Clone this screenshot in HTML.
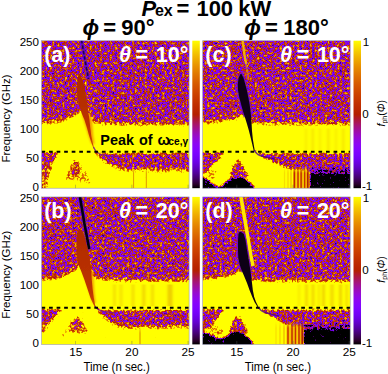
<!DOCTYPE html>
<html><head><meta charset="utf-8"><style>html,body{margin:0;padding:0;background:#fff;overflow:hidden}svg{display:block}</style></head>
<body><svg width="388" height="374" viewBox="0 0 388 374" xmlns="http://www.w3.org/2000/svg">
<defs>
<linearGradient id="cbg" x1="0" y1="0" x2="0" y2="1"><stop offset="0.000" stop-color="#ffff00"/><stop offset="0.025" stop-color="#fcec00"/><stop offset="0.050" stop-color="#f9db00"/><stop offset="0.075" stop-color="#f5ca00"/><stop offset="0.100" stop-color="#f2ba00"/><stop offset="0.125" stop-color="#efab00"/><stop offset="0.150" stop-color="#eb9d00"/><stop offset="0.175" stop-color="#e88f00"/><stop offset="0.200" stop-color="#e48300"/><stop offset="0.225" stop-color="#e07700"/><stop offset="0.250" stop-color="#dd6c00"/><stop offset="0.275" stop-color="#d96100"/><stop offset="0.300" stop-color="#d55700"/><stop offset="0.325" stop-color="#d24e00"/><stop offset="0.350" stop-color="#ce4600"/><stop offset="0.375" stop-color="#ca3e00"/><stop offset="0.400" stop-color="#c63700"/><stop offset="0.425" stop-color="#c13000"/><stop offset="0.450" stop-color="#bd2a00"/><stop offset="0.475" stop-color="#b92500"/><stop offset="0.500" stop-color="#b42000"/><stop offset="0.525" stop-color="#b01b28"/><stop offset="0.550" stop-color="#ab174f"/><stop offset="0.575" stop-color="#a61474"/><stop offset="0.600" stop-color="#a11096"/><stop offset="0.625" stop-color="#9c0db4"/><stop offset="0.650" stop-color="#970bce"/><stop offset="0.675" stop-color="#9109e3"/><stop offset="0.700" stop-color="#8c07f3"/><stop offset="0.725" stop-color="#8605fc"/><stop offset="0.750" stop-color="#8004ff"/><stop offset="0.775" stop-color="#7903fc"/><stop offset="0.800" stop-color="#7202f3"/><stop offset="0.825" stop-color="#6b01e3"/><stop offset="0.850" stop-color="#6301ce"/><stop offset="0.875" stop-color="#5a00b4"/><stop offset="0.900" stop-color="#510096"/><stop offset="0.925" stop-color="#460074"/><stop offset="0.950" stop-color="#39004f"/><stop offset="0.975" stop-color="#280028"/><stop offset="1.000" stop-color="#000000"/></linearGradient>
<filter id="sb" x="-50%" y="-50%" width="200%" height="200%"><feGaussianBlur stdDeviation="0.55"/></filter>
<filter id="sb2" x="-100%" y="-20%" width="300%" height="140%"><feGaussianBlur stdDeviation="0.9 0.5"/></filter>
<filter id="sb4" x="-100%" y="-20%" width="300%" height="140%"><feGaussianBlur stdDeviation="1.1"/></filter>
<filter id="sb3" x="-100%" y="-20%" width="300%" height="140%"><feGaussianBlur stdDeviation="0.35 0.3"/></filter>
<linearGradient id="rs" x1="0" y1="0" x2="0" y2="1"><stop offset="0" stop-color="#b02a00" stop-opacity="1"/><stop offset="0.5" stop-color="#b83000" stop-opacity="1"/><stop offset="0.75" stop-color="#c03400" stop-opacity="1"/><stop offset="1" stop-color="#c83c00" stop-opacity="0.9"/></linearGradient>
<linearGradient id="rs2" x1="0" y1="0" x2="0" y2="1"><stop offset="0" stop-color="#b02a00" stop-opacity="1"/><stop offset="0.55" stop-color="#b83000" stop-opacity="1"/><stop offset="0.8" stop-color="#c03400" stop-opacity="1"/><stop offset="1" stop-color="#c83c00" stop-opacity="0.9"/></linearGradient>
<filter id="fa" filterUnits="userSpaceOnUse" x="37.6" y="36.7" width="155.5" height="155.5" color-interpolation-filters="sRGB">
<feGaussianBlur in="SourceGraphic" stdDeviation="1" result="off"/>
<feTurbulence type="fractalNoise" baseFrequency="0.4" numOctaves="2" seed="3" result="t"/>
<feColorMatrix in="t" type="matrix" values="1 0 0 0 0 1 0 0 0 0 1 0 0 0 0 0 0 0 0 1" result="n0"/>
<feGaussianBlur in="n0" stdDeviation="0.01" result="nb"/>
<feComponentTransfer in="nb" result="n"><feFuncR type="linear" slope="1.0" intercept="0.000"/><feFuncG type="linear" slope="1.0" intercept="0.000"/><feFuncB type="linear" slope="1.0" intercept="0.000"/></feComponentTransfer>
<feComponentTransfer in="n" result="d"><feFuncR type="table" tableValues="0.02 0.03 0.04 0.05 0.07 0.11 0.18 0.215 0.25 0.31 0.45 0.56 0.64 0.71 0.79 0.86 0.90 0.93 0.96 0.98 1.0"/><feFuncG type="table" tableValues="0.02 0.03 0.04 0.05 0.07 0.11 0.18 0.215 0.25 0.31 0.45 0.56 0.64 0.71 0.79 0.86 0.90 0.93 0.96 0.98 1.0"/><feFuncB type="table" tableValues="0.02 0.03 0.04 0.05 0.07 0.11 0.18 0.215 0.25 0.31 0.45 0.56 0.64 0.71 0.79 0.86 0.90 0.93 0.96 0.98 1.0"/></feComponentTransfer>
<feComposite in="d" in2="off" operator="arithmetic" k1="0" k2="1" k3="2.0" k4="-1.000" result="v"/>
<feComponentTransfer in="v"><feFuncR type="table" tableValues="0.000 0.224 0.316 0.387 0.447 0.500 0.548 0.592 0.632 0.671 0.707 0.742 0.775 0.806 0.837 0.866 0.894 0.922 0.949 0.975 1.000"/><feFuncG type="table" tableValues="0.000 0.000 0.001 0.003 0.008 0.016 0.027 0.043 0.064 0.091 0.125 0.166 0.216 0.275 0.343 0.422 0.512 0.614 0.729 0.857 1.000"/><feFuncB type="table" tableValues="0.000 0.309 0.588 0.809 0.951 1.000 0.951 0.809 0.588 0.309 0.000 0.000 0.000 0.000 0.000 0.000 0.000 0.000 0.000 0.000 0.000"/></feComponentTransfer>
</filter>
<linearGradient id="fga" gradientUnits="userSpaceOnUse" x1="0" y1="166" x2="0" y2="173"><stop offset="0" stop-color="#fff" stop-opacity="0"/><stop offset="1" stop-color="#fff" stop-opacity="1"/></linearGradient><mask id="fma" maskUnits="userSpaceOnUse" x="41.6" y="166" width="147.5" height="23.19999999999999"><rect x="41.6" y="166" width="147.5" height="23.19999999999999" fill="url(#fga)"/></mask>
<filter id="fb" filterUnits="userSpaceOnUse" x="37.6" y="192.9" width="155.5" height="155.5" color-interpolation-filters="sRGB">
<feGaussianBlur in="SourceGraphic" stdDeviation="1" result="off"/>
<feTurbulence type="fractalNoise" baseFrequency="0.4" numOctaves="2" seed="7" result="t"/>
<feColorMatrix in="t" type="matrix" values="1 0 0 0 0 1 0 0 0 0 1 0 0 0 0 0 0 0 0 1" result="n0"/>
<feGaussianBlur in="n0" stdDeviation="0.01" result="nb"/>
<feComponentTransfer in="nb" result="n"><feFuncR type="linear" slope="1.0" intercept="0.000"/><feFuncG type="linear" slope="1.0" intercept="0.000"/><feFuncB type="linear" slope="1.0" intercept="0.000"/></feComponentTransfer>
<feComponentTransfer in="n" result="d"><feFuncR type="table" tableValues="0.02 0.03 0.04 0.05 0.07 0.11 0.18 0.215 0.25 0.31 0.45 0.56 0.64 0.71 0.79 0.86 0.90 0.93 0.96 0.98 1.0"/><feFuncG type="table" tableValues="0.02 0.03 0.04 0.05 0.07 0.11 0.18 0.215 0.25 0.31 0.45 0.56 0.64 0.71 0.79 0.86 0.90 0.93 0.96 0.98 1.0"/><feFuncB type="table" tableValues="0.02 0.03 0.04 0.05 0.07 0.11 0.18 0.215 0.25 0.31 0.45 0.56 0.64 0.71 0.79 0.86 0.90 0.93 0.96 0.98 1.0"/></feComponentTransfer>
<feComposite in="d" in2="off" operator="arithmetic" k1="0" k2="1" k3="2.0" k4="-1.000" result="v"/>
<feComponentTransfer in="v"><feFuncR type="table" tableValues="0.000 0.224 0.316 0.387 0.447 0.500 0.548 0.592 0.632 0.671 0.707 0.742 0.775 0.806 0.837 0.866 0.894 0.922 0.949 0.975 1.000"/><feFuncG type="table" tableValues="0.000 0.000 0.001 0.003 0.008 0.016 0.027 0.043 0.064 0.091 0.125 0.166 0.216 0.275 0.343 0.422 0.512 0.614 0.729 0.857 1.000"/><feFuncB type="table" tableValues="0.000 0.309 0.588 0.809 0.951 1.000 0.951 0.809 0.588 0.309 0.000 0.000 0.000 0.000 0.000 0.000 0.000 0.000 0.000 0.000 0.000"/></feComponentTransfer>
</filter>
<linearGradient id="fgb" gradientUnits="userSpaceOnUse" x1="0" y1="326" x2="0" y2="333"><stop offset="0" stop-color="#fff" stop-opacity="0"/><stop offset="1" stop-color="#fff" stop-opacity="1"/></linearGradient><mask id="fmb" maskUnits="userSpaceOnUse" x="41.6" y="326" width="147.5" height="19.399999999999977"><rect x="41.6" y="326" width="147.5" height="19.399999999999977" fill="url(#fgb)"/></mask>
<filter id="fc" filterUnits="userSpaceOnUse" x="198.7" y="36.7" width="155.5" height="155.5" color-interpolation-filters="sRGB">
<feGaussianBlur in="SourceGraphic" stdDeviation="1" result="off"/>
<feTurbulence type="fractalNoise" baseFrequency="0.4" numOctaves="2" seed="11" result="t"/>
<feColorMatrix in="t" type="matrix" values="1 0 0 0 0 1 0 0 0 0 1 0 0 0 0 0 0 0 0 1" result="n0"/>
<feGaussianBlur in="n0" stdDeviation="0.01" result="nb"/>
<feComponentTransfer in="nb" result="n"><feFuncR type="linear" slope="1.0" intercept="0.000"/><feFuncG type="linear" slope="1.0" intercept="0.000"/><feFuncB type="linear" slope="1.0" intercept="0.000"/></feComponentTransfer>
<feComponentTransfer in="n" result="d"><feFuncR type="table" tableValues="0.02 0.03 0.04 0.05 0.07 0.11 0.18 0.215 0.25 0.31 0.45 0.56 0.64 0.71 0.79 0.86 0.90 0.93 0.96 0.98 1.0"/><feFuncG type="table" tableValues="0.02 0.03 0.04 0.05 0.07 0.11 0.18 0.215 0.25 0.31 0.45 0.56 0.64 0.71 0.79 0.86 0.90 0.93 0.96 0.98 1.0"/><feFuncB type="table" tableValues="0.02 0.03 0.04 0.05 0.07 0.11 0.18 0.215 0.25 0.31 0.45 0.56 0.64 0.71 0.79 0.86 0.90 0.93 0.96 0.98 1.0"/></feComponentTransfer>
<feComposite in="d" in2="off" operator="arithmetic" k1="0" k2="1" k3="2.0" k4="-1.000" result="v"/>
<feComponentTransfer in="v"><feFuncR type="table" tableValues="0.000 0.224 0.316 0.387 0.447 0.500 0.548 0.592 0.632 0.671 0.707 0.742 0.775 0.806 0.837 0.866 0.894 0.922 0.949 0.975 1.000"/><feFuncG type="table" tableValues="0.000 0.000 0.001 0.003 0.008 0.016 0.027 0.043 0.064 0.091 0.125 0.166 0.216 0.275 0.343 0.422 0.512 0.614 0.729 0.857 1.000"/><feFuncB type="table" tableValues="0.000 0.309 0.588 0.809 0.951 1.000 0.951 0.809 0.588 0.309 0.000 0.000 0.000 0.000 0.000 0.000 0.000 0.000 0.000 0.000 0.000"/></feComponentTransfer>
</filter>
<linearGradient id="fgc" gradientUnits="userSpaceOnUse" x1="0" y1="166" x2="0" y2="173"><stop offset="0" stop-color="#fff" stop-opacity="0"/><stop offset="1" stop-color="#fff" stop-opacity="1"/></linearGradient><mask id="fmc" maskUnits="userSpaceOnUse" x="202.7" y="166" width="147.5" height="23.19999999999999"><rect x="202.7" y="166" width="147.5" height="23.19999999999999" fill="url(#fgc)"/></mask>
<filter id="fd" filterUnits="userSpaceOnUse" x="198.7" y="192.9" width="155.5" height="155.5" color-interpolation-filters="sRGB">
<feGaussianBlur in="SourceGraphic" stdDeviation="1" result="off"/>
<feTurbulence type="fractalNoise" baseFrequency="0.4" numOctaves="2" seed="19" result="t"/>
<feColorMatrix in="t" type="matrix" values="1 0 0 0 0 1 0 0 0 0 1 0 0 0 0 0 0 0 0 1" result="n0"/>
<feGaussianBlur in="n0" stdDeviation="0.01" result="nb"/>
<feComponentTransfer in="nb" result="n"><feFuncR type="linear" slope="1.0" intercept="0.000"/><feFuncG type="linear" slope="1.0" intercept="0.000"/><feFuncB type="linear" slope="1.0" intercept="0.000"/></feComponentTransfer>
<feComponentTransfer in="n" result="d"><feFuncR type="table" tableValues="0.02 0.03 0.04 0.05 0.07 0.11 0.18 0.215 0.25 0.31 0.45 0.56 0.64 0.71 0.79 0.86 0.90 0.93 0.96 0.98 1.0"/><feFuncG type="table" tableValues="0.02 0.03 0.04 0.05 0.07 0.11 0.18 0.215 0.25 0.31 0.45 0.56 0.64 0.71 0.79 0.86 0.90 0.93 0.96 0.98 1.0"/><feFuncB type="table" tableValues="0.02 0.03 0.04 0.05 0.07 0.11 0.18 0.215 0.25 0.31 0.45 0.56 0.64 0.71 0.79 0.86 0.90 0.93 0.96 0.98 1.0"/></feComponentTransfer>
<feComposite in="d" in2="off" operator="arithmetic" k1="0" k2="1" k3="2.0" k4="-1.000" result="v"/>
<feComponentTransfer in="v"><feFuncR type="table" tableValues="0.000 0.224 0.316 0.387 0.447 0.500 0.548 0.592 0.632 0.671 0.707 0.742 0.775 0.806 0.837 0.866 0.894 0.922 0.949 0.975 1.000"/><feFuncG type="table" tableValues="0.000 0.000 0.001 0.003 0.008 0.016 0.027 0.043 0.064 0.091 0.125 0.166 0.216 0.275 0.343 0.422 0.512 0.614 0.729 0.857 1.000"/><feFuncB type="table" tableValues="0.000 0.309 0.588 0.809 0.951 1.000 0.951 0.809 0.588 0.309 0.000 0.000 0.000 0.000 0.000 0.000 0.000 0.000 0.000 0.000 0.000"/></feComponentTransfer>
</filter>
<linearGradient id="fgd" gradientUnits="userSpaceOnUse" x1="0" y1="321" x2="0" y2="328"><stop offset="0" stop-color="#fff" stop-opacity="0"/><stop offset="1" stop-color="#fff" stop-opacity="1"/></linearGradient><mask id="fmd" maskUnits="userSpaceOnUse" x="202.7" y="321" width="147.5" height="24.399999999999977"><rect x="202.7" y="321" width="147.5" height="24.399999999999977" fill="url(#fgd)"/></mask>
</defs>
<clipPath id="cla"><rect x="41.6" y="40.7" width="147.5" height="147.5"/></clipPath>
<g clip-path="url(#cla)">
<g filter="url(#fa)">
<rect x="37.6" y="36.7" width="155.5" height="155.5" fill="rgb(128,128,128)"/>
<polygon points="76.0,76.0 74.0,90.0 75.0,105.0 80.0,118.0 90.0,118.0 90.0,100.0 87.0,84.0 82.0,74.0" fill="rgb(143,143,143)" />
<polygon points="37.6,120.5 60.0,118.0 66.0,116.0 72.0,113.5 77.0,110.5 79.5,107.5 82.0,106.5 88.0,108.5 91.0,114.0 94.0,118.5 100.0,119.8 120.0,120.8 193.1,121.0 193.1,153.0 37.6,153.0" fill="rgb(145,145,145)" />
<polygon points="37.6,123.5 60.0,121.0 66.0,119.0 72.0,116.5 77.0,113.5 79.5,110.5 82.0,109.5 88.0,111.5 91.0,117.0 94.0,121.5 100.0,122.8 120.0,123.8 193.1,124.0 193.1,153.0 37.6,153.0" fill="rgb(178,178,178)" />
<polygon points="37.6,125.5 60.0,123.0 66.0,121.0 72.0,118.5 77.0,115.5 79.5,112.5 82.0,111.5 88.0,113.5 91.0,119.0 94.0,123.5 100.0,124.8 120.0,125.8 193.1,126.0 193.1,153.0 37.6,153.0" fill="rgb(255,255,255)" />
<rect x="37.6" y="153.0" width="155.5" height="39.2" fill="rgb(247,247,247)"/>
<polygon points="37.6,152.5 59.0,152.5 56.0,158.0 53.0,165.0 50.0,173.0 48.0,181.0 46.5,192.2 37.6,192.2" fill="rgb(158,158,158)" />
<polygon points="37.6,152.5 58.0,152.5 52.0,162.0 37.6,170.0" fill="rgb(128,128,128)" />
<polygon points="74.5,158.0 78.0,160.0 83.0,168.0 89.0,178.0 91.0,184.0 80.0,181.0 68.0,181.0 64.0,180.0 68.0,171.0" fill="rgb(189,189,189)" />
<polygon points="74.5,159.0 77.5,162.0 80.0,168.0 79.0,174.0 72.0,176.0 68.0,175.0 71.0,168.0" fill="rgb(153,153,153)" />
<polygon points="94.0,150.0 97.0,152.5 103.0,153.5 193.1,153.0 193.1,173.0 175.0,171.5 160.0,173.0 145.0,171.0 130.0,172.5 118.0,170.0 108.0,165.0 101.0,159.0 96.0,154.0" fill="rgb(184,184,184)" />
<polygon points="94.0,150.0 97.0,152.5 103.0,153.5 193.1,153.0 193.1,170.0 175.0,168.0 160.0,170.0 145.0,167.5 130.0,169.0 118.0,167.0 108.0,163.0 101.0,158.0 96.0,154.0" fill="rgb(128,128,128)" />
</g>
<g mask="url(#fma)">
<rect x="133.0" y="166" width="1.1" height="22.19999999999999" fill="#c03000" opacity="0.45" filter="url(#sb3)"/>
<rect x="145.8" y="166" width="1.1" height="22.19999999999999" fill="#c03000" opacity="0.45" filter="url(#sb3)"/>
</g>
<polyline points="81.5,40.0 85.0,60.0 88.5,79.0" fill="none" stroke="#5a08c8" stroke-width="3.4" opacity="0.75"/>
<polyline points="81.5,40.0 85.0,60.0 88.5,79.0" fill="none" stroke="#14003c" stroke-width="1.6" stroke-dasharray="3.5 2" opacity="0.85"/>
<polygon points="82.0,114.0 84.0,121.0 86.5,129.0 89.0,137.0 91.5,144.0 94.5,144.0 93.3,137.0 92.6,129.0 92.0,121.0 91.0,114.0" fill="#f07800" opacity="0.75" filter="url(#sb4)"/>
<polygon points="78.5,74.4 77.5,78.0 77.0,84.0 77.0,92.0 78.0,100.0 79.5,106.0 81.5,113.0 84.5,120.0 87.0,128.0 89.2,136.0 91.5,143.0 93.5,148.5 94.2,148.5 92.8,143.0 91.3,136.0 90.3,128.0 89.5,120.0 88.5,113.0 87.6,106.0 86.8,100.0 85.3,92.0 83.8,84.0 82.0,78.0 80.0,74.4" fill="url(#rs)" filter="url(#sb)"/>
<path d="M93.6,147 Q95.5,152 100,154 T115,157" fill="none" stroke="#7010a0" stroke-width="1.3" opacity="0.8" filter="url(#sb)"/>
<line x1="41.5" y1="151.7" x2="189.1" y2="151.7" stroke="#000" stroke-width="2" stroke-dasharray="3.7 3.85"/>
</g>
<rect x="41.6" y="40.7" width="147.5" height="147.5" fill="none" stroke="#9a9ab8" stroke-width="0.6"/>
<line x1="75.7" y1="184.7" x2="75.7" y2="188.2" stroke="#555" stroke-width="0.6" opacity="0.7"/>
<line x1="131.9" y1="184.7" x2="131.9" y2="188.2" stroke="#555" stroke-width="0.6" opacity="0.7"/>
<line x1="188.1" y1="184.7" x2="188.1" y2="188.2" stroke="#555" stroke-width="0.6" opacity="0.7"/>
<rect x="192.3" y="40.7" width="7.5" height="147.5" fill="url(#cbg)"/>
<clipPath id="clb"><rect x="41.6" y="196.9" width="147.5" height="147.5"/></clipPath>
<g clip-path="url(#clb)">
<g filter="url(#fb)">
<rect x="37.6" y="192.9" width="155.5" height="155.5" fill="rgb(128,128,128)"/>
<polygon points="76.0,230.0 74.0,245.0 75.0,262.0 80.0,272.0 93.0,272.0 92.0,255.0 88.0,238.0 82.0,228.0" fill="rgb(143,143,143)" />
<polygon points="37.6,276.5 60.0,274.5 66.0,271.5 72.0,268.5 76.0,265.5 79.0,262.0 81.0,260.0 88.0,262.0 91.0,268.0 94.0,274.0 100.0,275.6 120.0,277.0 193.1,277.5 193.1,309.5 37.6,309.5" fill="rgb(145,145,145)" />
<polygon points="37.6,279.5 60.0,277.5 66.0,274.5 72.0,271.5 76.0,268.5 79.0,265.0 81.0,263.0 88.0,265.0 91.0,271.0 94.0,277.0 100.0,278.6 120.0,280.0 193.1,280.5 193.1,309.5 37.6,309.5" fill="rgb(178,178,178)" />
<polygon points="37.6,281.5 60.0,279.5 66.0,276.5 72.0,273.5 76.0,270.5 79.0,267.0 81.0,265.0 88.0,267.0 91.0,273.0 94.0,279.0 100.0,280.6 120.0,282.0 193.1,282.5 193.1,309.5 37.6,309.5" fill="rgb(255,255,255)" />
<rect x="37.6" y="309.5" width="155.5" height="38.9" fill="rgb(247,247,247)"/>
<polygon points="37.6,309.0 62.0,309.0 58.0,314.0 53.0,320.0 48.0,326.0 44.0,332.0 37.6,334.0" fill="rgb(153,153,153)" />
<polygon points="37.6,309.0 60.0,309.0 52.0,318.0 37.6,326.0" fill="rgb(128,128,128)" />
<polygon points="76.3,315.0 80.0,317.0 85.0,323.0 88.0,330.0 86.0,334.0 75.0,333.0 67.0,332.0 70.0,323.0" fill="rgb(178,178,178)" />
<polygon points="76.3,316.0 79.0,318.5 82.0,325.0 80.0,331.0 72.0,330.0 71.0,323.0" fill="rgb(143,143,143)" />
<polygon points="61.0,336.0 66.0,330.0 72.0,325.0 73.0,327.0 67.0,332.0 62.0,337.5" fill="rgb(184,184,184)" />
<polygon points="95.0,306.0 98.0,309.0 104.0,310.5 193.1,310.0 193.1,329.0 175.0,328.0 160.0,330.0 145.0,328.0 130.0,330.0 118.0,328.0 108.0,322.0 101.0,315.0 97.0,310.0" fill="rgb(184,184,184)" />
<polygon points="95.0,306.0 98.0,309.0 104.0,310.5 193.1,310.0 193.1,326.0 175.0,325.0 160.0,327.0 145.0,325.0 130.0,327.0 118.0,325.0 108.0,320.0 101.0,314.0 97.0,310.0" fill="rgb(128,128,128)" />
</g>
<g mask="url(#fmb)">
<rect x="139.4" y="326" width="1.2" height="18.399999999999977" fill="#c03000" opacity="0.5" filter="url(#sb3)"/>
</g>
<rect x="113" y="284.5" width="3" height="21.5" fill="#e0a800" opacity="0.3" filter="url(#sb2)"/>
<rect x="119.5" y="284.5" width="3" height="21.5" fill="#e0a800" opacity="0.3" filter="url(#sb2)"/>
<rect x="131.5" y="284.5" width="3" height="21.5" fill="#e0a800" opacity="0.35" filter="url(#sb2)"/>
<rect x="142" y="284.5" width="3.5" height="21.5" fill="#e0a800" opacity="0.4" filter="url(#sb2)"/>
<rect x="151" y="284.5" width="3" height="21.5" fill="#e0a800" opacity="0.35" filter="url(#sb2)"/>
<rect x="167.5" y="284.5" width="5" height="21.5" fill="#e0a800" opacity="0.55" filter="url(#sb2)"/>
<polyline points="79.8,196.0 84.5,224.0 89.2,250.0" fill="none" stroke="#6010c8" stroke-width="5" opacity="0.55" filter="url(#sb)"/>
<polyline points="79.8,196.0 84.5,224.0 89.2,249.0" fill="none" stroke="#06000f" stroke-width="2.6" filter="url(#sb)"/>
<polygon points="82.0,270.0 85.0,279.0 88.0,288.0 90.5,296.0 93.0,303.0 95.6,303.0 94.6,296.0 94.0,288.0 93.5,279.0 93.0,270.0" fill="#f07800" opacity="0.75" filter="url(#sb4)"/>
<polygon points="79.0,229.5 77.3,232.0 76.5,240.0 76.5,250.0 77.0,258.0 78.5,265.0 81.5,272.0 84.5,280.0 87.5,289.0 90.5,298.0 93.5,304.5 95.2,308.0 95.8,308.0 95.0,304.5 93.8,298.0 92.6,289.0 91.8,280.0 91.3,272.0 90.5,265.0 89.5,258.0 88.0,250.0 85.5,240.0 83.0,232.0 80.5,229.5" fill="url(#rs2)" filter="url(#sb)"/>
<path d="M95,306 Q96.5,309 100,310.5 T115,313" fill="none" stroke="#7010a0" stroke-width="1.3" opacity="0.8" filter="url(#sb)"/>
<line x1="41.5" y1="307.8" x2="189.1" y2="307.8" stroke="#000" stroke-width="2" stroke-dasharray="3.7 3.85"/>
</g>
<rect x="41.6" y="196.9" width="147.5" height="147.5" fill="none" stroke="#9a9ab8" stroke-width="0.6"/>
<line x1="75.7" y1="340.9" x2="75.7" y2="344.4" stroke="#555" stroke-width="0.6" opacity="0.7"/>
<line x1="131.9" y1="340.9" x2="131.9" y2="344.4" stroke="#555" stroke-width="0.6" opacity="0.7"/>
<line x1="188.1" y1="340.9" x2="188.1" y2="344.4" stroke="#555" stroke-width="0.6" opacity="0.7"/>
<rect x="192.3" y="196.9" width="7.5" height="147.5" fill="url(#cbg)"/>
<clipPath id="clc"><rect x="202.7" y="40.7" width="147.5" height="147.5"/></clipPath>
<g clip-path="url(#clc)">
<g filter="url(#fc)">
<rect x="198.7" y="36.7" width="155.5" height="155.5" fill="rgb(128,128,128)"/>
<polygon points="198.7,120.3 218.5,118.0 234.0,115.7 239.0,113.5 242.0,111.0 245.0,112.0 249.0,116.0 253.0,119.5 265.0,120.5 354.2,120.6 354.2,153.0 198.7,153.0" fill="rgb(145,145,145)" />
<polygon points="198.7,123.3 218.5,121.0 234.0,118.7 239.0,116.5 242.0,114.0 245.0,115.0 249.0,119.0 253.0,122.5 265.0,123.5 354.2,123.6 354.2,153.0 198.7,153.0" fill="rgb(178,178,178)" />
<polygon points="198.7,125.3 218.5,123.0 234.0,120.7 239.0,118.5 242.0,116.0 245.0,117.0 249.0,121.0 253.0,124.5 265.0,125.5 354.2,125.6 354.2,153.0 198.7,153.0" fill="rgb(255,255,255)" />
<rect x="198.7" y="153.0" width="155.5" height="39.2" fill="rgb(247,247,247)"/>
<polygon points="198.7,152.5 224.0,152.5 221.0,157.0 216.0,162.3 212.0,166.0 208.0,170.0 204.0,174.0 198.7,176.0" fill="rgb(128,128,128)" />
<polygon points="206.0,172.0 208.0,170.0 216.0,171.0 218.0,176.0 214.0,179.0 208.0,178.0" fill="rgb(191,191,191)" />
<polygon points="198.7,176.0 207.0,179.0 212.0,183.0 217.0,186.5 221.0,186.5 226.0,182.0 231.0,178.5 238.0,177.0 245.0,178.5 250.0,182.5 254.0,187.0 255.0,192.2 198.7,192.2" fill="rgb(38,38,38)" />
<polygon points="237.5,159.5 241.0,162.5 245.0,169.0 249.0,176.0 244.0,177.5 237.0,176.5 230.0,178.0 231.0,170.0 234.0,164.0" fill="rgb(133,133,133)" />
<polygon points="224.0,192.2 227.0,183.0 231.0,179.5 238.0,178.0 245.0,179.5 249.0,183.0 252.0,192.2" fill="rgb(8,8,8)" />
<polygon points="254.0,148.0 258.0,152.0 265.0,153.5 354.2,153.0 354.2,169.0 320.0,170.0 309.0,170.5 300.0,170.0 292.0,170.0 282.0,166.0 270.0,161.0 262.0,157.0 256.0,152.0" fill="rgb(128,128,128)" />
<polygon points="309.0,168.0 354.2,167.5 354.2,174.0 309.0,174.5" fill="rgb(102,102,102)" />
<polygon points="309.5,174.5 320.0,173.5 335.0,174.0 354.2,173.0 354.2,192.2 309.5,192.2" fill="rgb(26,26,26)" />
</g>
<g mask="url(#fmc)">
<rect x="293" y="166" width="16.5" height="22.19999999999999" fill="#f2b000"/>
<rect x="283.9" y="166" width="1.2" height="22.19999999999999" fill="#f0c000" opacity="0.5" filter="url(#sb3)"/>
<rect x="287.4" y="166" width="1.2" height="22.19999999999999" fill="#f0b000" opacity="0.6" filter="url(#sb3)"/>
<rect x="290.4" y="166" width="1.2" height="22.19999999999999" fill="#e89000" opacity="0.7" filter="url(#sb3)"/>
<rect x="293.7" y="166" width="1.4" height="22.19999999999999" fill="#c02800" opacity="1" filter="url(#sb3)"/>
<rect x="295.9" y="166" width="1.2" height="22.19999999999999" fill="#f8d000" opacity="1" filter="url(#sb3)"/>
<rect x="297.3" y="166" width="1.4" height="22.19999999999999" fill="#c83000" opacity="1" filter="url(#sb3)"/>
<rect x="299.0" y="166" width="1.2" height="22.19999999999999" fill="#f8d000" opacity="1" filter="url(#sb3)"/>
<rect x="300.4" y="166" width="1.4" height="22.19999999999999" fill="#c02800" opacity="1" filter="url(#sb3)"/>
<rect x="302.5" y="166" width="1.4" height="22.19999999999999" fill="#f0c000" opacity="1" filter="url(#sb3)"/>
<rect x="304.0" y="166" width="1.4" height="22.19999999999999" fill="#c83000" opacity="1" filter="url(#sb3)"/>
<rect x="305.7" y="166" width="1.2" height="22.19999999999999" fill="#f0b000" opacity="1" filter="url(#sb3)"/>
<rect x="307.0" y="166" width="1.6" height="22.19999999999999" fill="#b02000" opacity="1" filter="url(#sb3)"/>
</g>
<rect x="305" y="128.5" width="2" height="21.5" fill="#e0a800" opacity="0.2" filter="url(#sb2)"/>
<rect x="311.5" y="128.5" width="2.5" height="21.5" fill="#e0a800" opacity="0.25" filter="url(#sb2)"/>
<rect x="319" y="128.5" width="2" height="21.5" fill="#e0a800" opacity="0.2" filter="url(#sb2)"/>
<rect x="327" y="128.5" width="2.5" height="21.5" fill="#e0a800" opacity="0.25" filter="url(#sb2)"/>
<rect x="335" y="128.5" width="2" height="21.5" fill="#e0a800" opacity="0.2" filter="url(#sb2)"/>
<rect x="342" y="128.5" width="2.5" height="21.5" fill="#e0a800" opacity="0.25" filter="url(#sb2)"/>
<polyline points="242.6,40.0 244.5,55.0 246.2,64.0" fill="none" stroke="#f5c000" stroke-width="2.4" opacity="0.9" filter="url(#sb)"/>
<polyline points="246.2,64.0 247.5,72.0 248.5,80.0" fill="none" stroke="#f0a000" stroke-width="1.8" opacity="0.5" filter="url(#sb)"/>
<polygon points="240.5,74.0 238.6,78.0 237.8,84.0 238.0,90.0 239.0,96.0 240.5,102.0 242.2,108.5 244.5,116.0 251.0,116.0 250.2,108.5 249.2,102.0 248.0,96.0 246.8,90.0 245.2,84.0 243.5,78.0 241.5,74.0" fill="none" stroke="#6a10c8" stroke-width="2.6" opacity="0.7" filter="url(#sb)"/>
<polygon points="240.5,74.0 238.6,78.0 237.8,84.0 238.0,90.0 239.0,96.0 240.5,102.0 242.2,108.5 244.5,116.0 247.0,124.0 249.0,131.0 251.0,139.0 253.8,151.0 254.8,151.0 252.8,139.0 252.0,131.0 251.6,124.0 251.0,116.0 250.2,108.5 249.2,102.0 248.0,96.0 246.8,90.0 245.2,84.0 243.5,78.0 241.5,74.0" fill="#0a0012" filter="url(#sb)"/>
<path d="M254.3,150 Q256,154 260,155.5 T275,159" fill="none" stroke="#500090" stroke-width="1.4" opacity="0.8" filter="url(#sb)"/>
<line x1="197.64999999999998" y1="151.7" x2="350.2" y2="151.7" stroke="#000" stroke-width="2" stroke-dasharray="3.7 3.85"/>
</g>
<rect x="202.7" y="40.7" width="147.5" height="147.5" fill="none" stroke="#9a9ab8" stroke-width="0.6"/>
<line x1="236.8" y1="184.7" x2="236.8" y2="188.2" stroke="#555" stroke-width="0.6" opacity="0.7"/>
<line x1="293.0" y1="184.7" x2="293.0" y2="188.2" stroke="#555" stroke-width="0.6" opacity="0.7"/>
<line x1="349.2" y1="184.7" x2="349.2" y2="188.2" stroke="#555" stroke-width="0.6" opacity="0.7"/>
<rect x="353.5" y="40.7" width="7.5" height="147.5" fill="url(#cbg)"/>
<clipPath id="cld"><rect x="202.7" y="196.9" width="147.5" height="147.5"/></clipPath>
<g clip-path="url(#cld)">
<g filter="url(#fd)">
<rect x="198.7" y="192.9" width="155.5" height="155.5" fill="rgb(128,128,128)"/>
<polygon points="198.7,276.3 218.5,274.0 234.0,271.0 239.0,268.5 242.0,265.5 245.0,266.0 248.0,271.0 251.0,276.5 265.0,277.5 354.2,277.7 354.2,309.5 198.7,309.5" fill="rgb(145,145,145)" />
<polygon points="198.7,279.3 218.5,277.0 234.0,274.0 239.0,271.5 242.0,268.5 245.0,269.0 248.0,274.0 251.0,279.5 265.0,280.5 354.2,280.7 354.2,309.5 198.7,309.5" fill="rgb(178,178,178)" />
<polygon points="198.7,281.3 218.5,279.0 234.0,276.0 239.0,273.5 242.0,270.5 245.0,271.0 248.0,276.0 251.0,281.5 265.0,282.5 354.2,282.7 354.2,309.5 198.7,309.5" fill="rgb(255,255,255)" />
<rect x="198.7" y="309.5" width="155.5" height="38.9" fill="rgb(247,247,247)"/>
<polygon points="198.7,309.0 224.0,309.0 221.0,314.0 216.0,320.0 212.0,325.0 208.0,329.0 198.7,331.0" fill="rgb(128,128,128)" />
<polygon points="208.0,329.0 212.0,325.0 220.0,327.0 225.0,331.0 222.0,335.0 212.0,334.0" fill="rgb(191,191,191)" />
<polygon points="198.7,331.0 208.0,333.0 214.0,336.0 219.0,338.5 224.0,338.0 230.0,334.0 236.0,332.0 243.0,333.5 249.0,338.0 253.0,343.0 254.0,348.4 198.7,348.4" fill="rgb(38,38,38)" />
<polygon points="237.5,315.5 241.0,318.5 245.0,325.0 249.0,332.0 244.0,333.0 236.0,332.0 229.0,333.0 231.0,325.0 234.0,319.0" fill="rgb(133,133,133)" />
<polygon points="224.0,348.4 226.0,338.0 230.0,334.5 236.0,332.5 243.0,334.0 248.0,338.0 252.0,348.4" fill="rgb(8,8,8)" />
<polygon points="256.0,304.0 260.0,308.5 268.0,310.0 354.2,309.5 354.2,326.0 320.0,327.0 303.0,328.0 292.0,327.0 283.0,323.0 272.0,317.0 263.0,312.0" fill="rgb(128,128,128)" />
<polygon points="303.0,324.0 354.2,323.5 354.2,330.0 303.0,330.5" fill="rgb(102,102,102)" />
<polygon points="303.5,330.5 315.0,329.5 330.0,330.0 354.2,329.0 354.2,348.4 303.5,348.4" fill="rgb(26,26,26)" />
</g>
<g mask="url(#fmd)">
<rect x="286.5" y="321" width="17.0" height="23.399999999999977" fill="#f2b000"/>
<rect x="275.4" y="321" width="1.2" height="23.399999999999977" fill="#f0c000" opacity="0.5" filter="url(#sb3)"/>
<rect x="279.4" y="321" width="1.2" height="23.399999999999977" fill="#f0b000" opacity="0.6" filter="url(#sb3)"/>
<rect x="283.4" y="321" width="1.2" height="23.399999999999977" fill="#e89000" opacity="0.7" filter="url(#sb3)"/>
<rect x="287.3" y="321" width="1.4" height="23.399999999999977" fill="#c83000" opacity="1" filter="url(#sb3)"/>
<rect x="289.4" y="321" width="1.2" height="23.399999999999977" fill="#f8d000" opacity="1" filter="url(#sb3)"/>
<rect x="291.3" y="321" width="1.4" height="23.399999999999977" fill="#c02800" opacity="1" filter="url(#sb3)"/>
<rect x="293.2" y="321" width="1.2" height="23.399999999999977" fill="#f0c000" opacity="1" filter="url(#sb3)"/>
<rect x="294.8" y="321" width="1.4" height="23.399999999999977" fill="#c83000" opacity="1" filter="url(#sb3)"/>
<rect x="296.7" y="321" width="1.2" height="23.399999999999977" fill="#f8d000" opacity="1" filter="url(#sb3)"/>
<rect x="298.3" y="321" width="1.4" height="23.399999999999977" fill="#c02800" opacity="1" filter="url(#sb3)"/>
<rect x="300.0" y="321" width="1.2" height="23.399999999999977" fill="#f0b000" opacity="1" filter="url(#sb3)"/>
<rect x="301.4" y="321" width="1.6" height="23.399999999999977" fill="#b02000" opacity="1" filter="url(#sb3)"/>
</g>
<rect x="298" y="284.5" width="2" height="21.5" fill="#e0a800" opacity="0.25" filter="url(#sb2)"/>
<rect x="305" y="284.5" width="3" height="21.5" fill="#e0a800" opacity="0.4" filter="url(#sb2)"/>
<rect x="311.5" y="284.5" width="3" height="21.5" fill="#e0a800" opacity="0.4" filter="url(#sb2)"/>
<rect x="318" y="284.5" width="2" height="21.5" fill="#e0a800" opacity="0.3" filter="url(#sb2)"/>
<rect x="322" y="284.5" width="3" height="21.5" fill="#e0a800" opacity="0.45" filter="url(#sb2)"/>
<rect x="330.5" y="284.5" width="3" height="21.5" fill="#e0a800" opacity="0.45" filter="url(#sb2)"/>
<rect x="339" y="284.5" width="3" height="21.5" fill="#e0a800" opacity="0.45" filter="url(#sb2)"/>
<rect x="345.5" y="284.5" width="2.5" height="21.5" fill="#e0a800" opacity="0.35" filter="url(#sb2)"/>
<polyline points="240.8,196.0 246.3,228.0 251.2,258.0 253.0,266.0" fill="none" stroke="#ffea00" stroke-width="3.6" filter="url(#sb)"/>
<polygon points="239.5,232.0 238.5,234.0 238.0,240.0 238.0,250.0 238.3,258.0 239.8,265.0 242.0,271.0 250.5,271.0 249.5,265.0 248.4,258.0 247.0,250.0 245.5,240.0 243.8,234.0 241.0,232.0" fill="none" stroke="#6a10c8" stroke-width="2.6" opacity="0.7" filter="url(#sb)"/>
<polygon points="239.5,232.0 238.5,234.0 238.0,240.0 238.0,250.0 238.3,258.0 239.8,265.0 242.0,271.0 244.5,277.0 247.0,283.0 249.5,290.0 252.3,297.0 254.5,302.0 257.0,306.0 258.0,309.0 259.0,309.0 258.0,306.0 256.0,302.0 254.2,297.0 252.8,290.0 252.0,283.0 251.3,277.0 250.5,271.0 249.5,265.0 248.4,258.0 247.0,250.0 245.5,240.0 243.8,234.0 241.0,232.0" fill="#0a0012" filter="url(#sb)"/>
<path d="M258.5,307 Q260,310.5 264,312 T279,316" fill="none" stroke="#500090" stroke-width="1.4" opacity="0.8" filter="url(#sb)"/>
<line x1="195.54999999999998" y1="307.8" x2="350.2" y2="307.8" stroke="#000" stroke-width="2" stroke-dasharray="3.7 3.85"/>
</g>
<rect x="202.7" y="196.9" width="147.5" height="147.5" fill="none" stroke="#9a9ab8" stroke-width="0.6"/>
<line x1="236.8" y1="340.9" x2="236.8" y2="344.4" stroke="#555" stroke-width="0.6" opacity="0.7"/>
<line x1="293.0" y1="340.9" x2="293.0" y2="344.4" stroke="#555" stroke-width="0.6" opacity="0.7"/>
<line x1="349.2" y1="340.9" x2="349.2" y2="344.4" stroke="#555" stroke-width="0.6" opacity="0.7"/>
<rect x="353.5" y="196.9" width="7.5" height="147.5" fill="url(#cbg)"/>
<text y="16.3" font-family="Liberation Sans" font-weight="bold" font-size="22"><tspan x="141.6" font-style="italic">P</tspan><tspan x="154.9" font-size="16">ex</tspan><tspan x="176.6">=</tspan><tspan x="196.4">100</tspan><tspan x="238.3">kW</tspan></text>
<text y="35.1" font-family="Liberation Sans" font-weight="bold" font-size="22"><tspan x="82.5" font-style="italic">ϕ</tspan><tspan x="103.2">=</tspan><tspan x="121.2">90°</tspan></text>
<text y="35.1" font-family="Liberation Sans" font-weight="bold" font-size="22"><tspan x="244.2" font-style="italic">ϕ</tspan><tspan x="264.9">=</tspan><tspan x="283.2">180°</tspan></text>
<text x="44.2" y="61.5" font-family="Liberation Sans" font-weight="bold" font-size="21.5" fill="#fff">(a)</text>
<text y="61.5" font-family="Liberation Sans" font-weight="bold" font-size="21.5" fill="#fff"><tspan x="118.9" font-style="italic">θ</tspan><tspan x="135.6">=</tspan><tspan x="155.8">10°</tspan></text>
<text x="44.2" y="217.7" font-family="Liberation Sans" font-weight="bold" font-size="21.5" fill="#fff">(b)</text>
<text y="217.7" font-family="Liberation Sans" font-weight="bold" font-size="21.5" fill="#fff"><tspan x="118.9" font-style="italic">θ</tspan><tspan x="135.6">=</tspan><tspan x="155.8">20°</tspan></text>
<text x="205.29999999999998" y="61.5" font-family="Liberation Sans" font-weight="bold" font-size="21.5" fill="#fff">(c)</text>
<text y="61.5" font-family="Liberation Sans" font-weight="bold" font-size="21.5" fill="#fff"><tspan x="280.0" font-style="italic">θ</tspan><tspan x="296.7">=</tspan><tspan x="316.9">10°</tspan></text>
<text x="205.29999999999998" y="217.7" font-family="Liberation Sans" font-weight="bold" font-size="21.5" fill="#fff">(d)</text>
<text y="217.7" font-family="Liberation Sans" font-weight="bold" font-size="21.5" fill="#fff"><tspan x="280.0" font-style="italic">θ</tspan><tspan x="296.7">=</tspan><tspan x="316.9">20°</tspan></text>
<text y="144.6" font-family="Liberation Sans" font-weight="bold" font-size="14.4"><tspan x="100.3">Peak</tspan><tspan x="139">of</tspan><tspan x="157.4" font-size="15">ω</tspan><tspan x="168.3" font-size="10.2">ce,γ</tspan></text>
<text x="39" y="191.1" font-family="Liberation Sans" font-size="11.6" text-anchor="end">0</text>
<text x="39" y="162.1" font-family="Liberation Sans" font-size="11.6" text-anchor="end">50</text>
<text x="39" y="133.1" font-family="Liberation Sans" font-size="11.6" text-anchor="end">100</text>
<text x="39" y="104.1" font-family="Liberation Sans" font-size="11.6" text-anchor="end">150</text>
<text x="39" y="75.1" font-family="Liberation Sans" font-size="11.6" text-anchor="end">200</text>
<text x="39" y="46.1" font-family="Liberation Sans" font-size="11.6" text-anchor="end">250</text>
<text transform="translate(9.6,118.5) rotate(-90)" font-family="Liberation Sans" font-size="11.5" text-anchor="middle">Frequency (GHz)</text>
<text x="39" y="347.3" font-family="Liberation Sans" font-size="11.6" text-anchor="end">0</text>
<text x="39" y="318.3" font-family="Liberation Sans" font-size="11.6" text-anchor="end">50</text>
<text x="39" y="289.3" font-family="Liberation Sans" font-size="11.6" text-anchor="end">100</text>
<text x="39" y="260.3" font-family="Liberation Sans" font-size="11.6" text-anchor="end">150</text>
<text x="39" y="231.3" font-family="Liberation Sans" font-size="11.6" text-anchor="end">200</text>
<text x="39" y="202.3" font-family="Liberation Sans" font-size="11.6" text-anchor="end">250</text>
<text transform="translate(9.6,274.7) rotate(-90)" font-family="Liberation Sans" font-size="11.5" text-anchor="middle">Frequency (GHz)</text>
<text x="75.7" y="356.3" font-family="Liberation Sans" font-size="11.8" text-anchor="middle">15</text>
<text x="131.9" y="356.3" font-family="Liberation Sans" font-size="11.8" text-anchor="middle">20</text>
<text x="188.1" y="356.3" font-family="Liberation Sans" font-size="11.8" text-anchor="middle">25</text>
<text x="116.6" y="371.4" font-family="Liberation Sans" font-size="12.2" text-anchor="middle" textLength="66.3" lengthAdjust="spacingAndGlyphs">Time (n sec.)</text>
<text x="236.8" y="356.3" font-family="Liberation Sans" font-size="11.8" text-anchor="middle">15</text>
<text x="293.0" y="356.3" font-family="Liberation Sans" font-size="11.8" text-anchor="middle">20</text>
<text x="349.2" y="356.3" font-family="Liberation Sans" font-size="11.8" text-anchor="middle">25</text>
<text x="277.8" y="371.4" font-family="Liberation Sans" font-size="12.2" text-anchor="middle" textLength="66.3" lengthAdjust="spacingAndGlyphs">Time (n sec.)</text>
<text x="362.8" y="45.9" font-family="Liberation Sans" font-size="11.6">1</text>
<text x="362.3" y="118.1" font-family="Liberation Sans" font-size="11.6">0</text>
<text x="362" y="190.3" font-family="Liberation Sans" font-size="11.6">-1</text>
<text transform="translate(385.3,113.2) rotate(-90)" font-family="Liberation Sans" font-size="10.5" text-anchor="middle"><tspan font-style="italic">f</tspan><tspan font-size="7" dy="2">ph</tspan><tspan dy="-2">(</tspan><tspan font-style="italic">Φ</tspan>)</text>
<text x="362.8" y="202.1" font-family="Liberation Sans" font-size="11.6">1</text>
<text x="362.3" y="274.3" font-family="Liberation Sans" font-size="11.6">0</text>
<text x="362" y="346.5" font-family="Liberation Sans" font-size="11.6">-1</text>
<text transform="translate(385.3,269.4) rotate(-90)" font-family="Liberation Sans" font-size="10.5" text-anchor="middle"><tspan font-style="italic">f</tspan><tspan font-size="7" dy="2">ph</tspan><tspan dy="-2">(</tspan><tspan font-style="italic">Φ</tspan>)</text>
</svg></body></html>
